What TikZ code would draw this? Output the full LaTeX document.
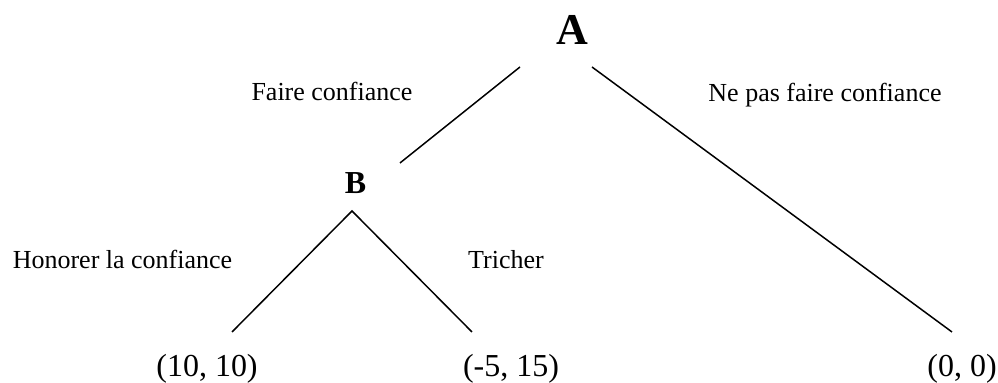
\documentclass[tikz,border=0pt]{standalone}
\usepackage{fontspec}
\setmainfont{Liberation Serif}
\usetikzlibrary{positioning}

\begin{document}
\begin{tikzpicture}[x=0.5pt,y=0.5pt,line width=0.75pt,
  lbl/.style={anchor=base,inner sep=0pt,font=\fontsize{13}{15}\selectfont},
  gain/.style={anchor=base,inner sep=0pt,font=\fontsize{16}{18}\selectfont}]
  \useasboundingbox (0,0) rectangle (998,383);
  \node[anchor=base,inner sep=0pt,font=\fontsize{22}{24}\selectfont\bfseries] (A) at (572,338) {A};
  \node[anchor=base,inner sep=0pt,font=\fontsize{16}{18}\selectfont\bfseries] (B) at (355.5,189) {B};
  \coordinate (A-l) at (520,316); \coordinate (B-in) at (400,220);
  \coordinate (A-r) at (592,316); \coordinate (B-top) at (352,172);
  \node[gain] (g1) at (207,6) {(10, 10)};
  \node[gain] (g2) at (511,6) {(-5, 15)};
  \node[gain] (g3) at (962,6) {(0, 0)};
  \coordinate (g1-top) at (232,51); \coordinate (g2-top) at (472,51); \coordinate (g3-top) at (952,51);
  \draw (A-l) -- (B-in);
  \draw (A-r) -- (g3-top);
  \draw (g1-top) -- (B-top) -- (g2-top);
  \node[lbl] (fc) at (332,282) {Faire confiance};
  \node[lbl] (npfc) at (825,281) {Ne pas faire confiance};
  \node[lbl] (hc) at (122.5,114) {Honorer la confiance};
  \node[lbl] (tr) at (506,114) {Tricher};
\end{tikzpicture}
\end{document}
